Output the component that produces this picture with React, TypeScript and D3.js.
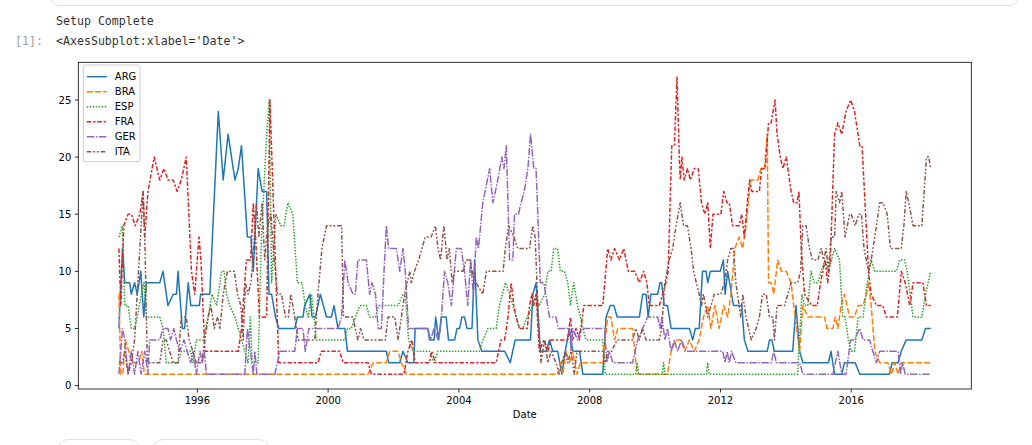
import React from "react";
import * as d3 from "d3";

// ---- data (decimal year, FIFA rank) ----
const SERIES_NAMES = ["ARG", "BRA", "ESP", "FRA", "GER", "ITA"];
const YEAR_TICKS = [1996, 2000, 2004, 2008, 2012, 2016];
const Y_TICKS = [0, 5, 10, 15, 20, 25];
const X_LABEL = "Date";

const ARG: [number, number][] = [[1993.60,5],[1993.71,12],[1993.78,9],[1993.93,9],[1993.98,8],[1994.08,9],[1994.16,8],[1994.27,10],[1994.36,6],[1994.44,9],[1994.85,9],[1994.95,10],[1995.10,7],[1995.26,8],[1995.36,8],[1995.41,10],[1995.54,5],[1995.61,5],[1995.72,9],[1995.80,7],[1996.06,7],[1996.10,8],[1996.38,8],[1996.64,24],[1996.79,18],[1996.94,22],[1997.15,18],[1997.25,19],[1997.35,21],[1997.53,13],[1997.64,13],[1997.71,10],[1997.86,19],[1997.98,17],[1998.12,17],[1998.19,8],[1998.27,8],[1998.39,6],[1998.49,5],[1998.98,5],[1999.06,6],[1999.23,6],[1999.28,7],[1999.44,8],[1999.51,6],[1999.61,6],[1999.76,8],[1999.95,6],[2000.10,6],[2000.18,7],[2000.30,5],[2000.51,5],[2000.59,3],[2001.78,3],[2001.85,2],[2002.19,2],[2002.29,3],[2002.44,2],[2002.62,2],[2002.66,5],[2003.05,5],[2003.10,4],[2003.24,4],[2003.29,6],[2003.38,4],[2003.46,6],[2003.61,6],[2003.68,4],[2003.87,4],[2003.94,5],[2004.02,5],[2004.09,6],[2004.17,6],[2004.25,5],[2004.40,5],[2004.48,11],[2004.58,4],[2004.70,3],[2005.40,3],[2005.57,2],[2005.72,4],[2006.19,4],[2006.26,8],[2006.36,9],[2006.49,3],[2006.67,3],[2006.77,4],[2006.87,3],[2007.02,3],[2007.15,1],[2007.25,3],[2007.38,5],[2007.48,3],[2007.69,3],[2007.79,1],[2008.40,1],[2008.50,6],[2008.63,7],[2008.74,7],[2008.84,6],[2009.52,6],[2009.62,8],[2009.72,8],[2009.79,6],[2009.87,8],[2010.08,8],[2010.15,9],[2010.20,9],[2010.28,7],[2010.38,7],[2010.49,5],[2011.05,5],[2011.15,4],[2011.23,5],[2011.35,5],[2011.45,10],[2011.56,10],[2011.61,9],[2011.69,10],[2011.99,10],[2012.09,11],[2012.14,8],[2012.22,10],[2012.40,7],[2012.65,7],[2012.73,4],[2012.84,3],[2013.43,3],[2013.50,4],[2013.57,4],[2013.65,3],[2014.21,3],[2014.31,7],[2014.42,3],[2014.52,2],[2015.30,2],[2015.38,3],[2015.49,1],[2015.71,1],[2015.79,2],[2016.12,2],[2016.26,1],[2017.17,1],[2017.25,2],[2017.43,2],[2017.53,3],[2017.68,4],[2018.16,4],[2018.27,5],[2018.43,5]];

const BRA: [number, number][] = [[1993.60,8],[1993.66,1],[1993.72,1],[1993.80,4],[1993.90,3],[1994.00,2],[1994.20,2],[1994.30,3],[1994.38,1],[2001.22,1],[2001.37,2],[2001.78,2],[2001.88,3],[2002.14,3],[2002.24,2],[2002.39,1],[2007.02,1],[2007.10,2],[2007.18,1],[2007.28,3],[2007.38,2],[2007.48,3],[2007.61,1],[2007.72,2],[2008.40,2],[2008.55,6],[2008.65,6],[2008.76,4],[2008.86,5],[2009.31,5],[2009.45,1],[2010.38,1],[2010.49,3],[2010.64,4],[2010.79,4],[2010.91,3],[2011.05,4],[2011.20,3],[2011.35,4],[2011.48,6],[2011.61,7],[2011.71,5],[2011.83,7],[2011.96,5],[2012.10,7],[2012.22,6],[2012.32,8],[2012.44,12],[2012.57,13],[2012.68,12],[2012.78,14],[2012.92,18],[2013.14,18],[2013.24,19],[2013.35,19],[2013.43,22],[2013.47,9],[2013.55,9],[2013.63,8],[2013.75,11],[2013.86,10],[2014.01,10],[2014.16,9],[2014.28,6],[2014.42,3],[2014.52,7],[2014.67,6],[2015.18,6],[2015.26,5],[2015.44,5],[2015.51,6],[2015.59,5],[2015.69,7],[2015.79,8],[2015.95,6],[2016.10,6],[2016.21,7],[2016.36,7],[2016.46,8],[2016.53,9],[2016.61,7],[2016.72,3],[2016.87,2],[2017.12,2],[2017.23,1],[2017.33,2],[2017.43,1],[2017.53,2],[2018.43,2]];

const ESP: [number, number][] = [[1993.60,13],[1993.71,14],[1993.78,7],[1993.88,7],[1993.98,5],[1994.08,5],[1994.16,6],[1994.29,8],[1994.37,9],[1994.44,6],[1994.85,6],[1994.95,5],[1995.05,2],[1995.41,2],[1995.51,3],[1995.80,3],[1995.87,2],[1995.97,4],[1996.18,4],[1996.33,6],[1996.45,8],[1996.59,7],[1996.74,10],[1996.82,10],[1996.89,8],[1996.99,7],[1997.15,6],[1997.25,5],[1997.35,4],[1997.45,3],[1997.55,2],[1997.62,6],[1997.68,2],[1997.86,2],[1997.96,13],[1998.12,22],[1998.20,25],[1998.27,9],[1998.40,15],[1998.55,14],[1998.65,14],[1998.77,16],[1998.92,15],[1999.06,9],[1999.20,9],[1999.30,7],[1999.39,6],[1999.49,8],[1999.57,6],[1999.64,4],[2000.51,4],[2000.59,5],[2000.71,5],[2000.97,7],[2001.17,7],[2001.27,6],[2001.45,6],[2001.55,7],[2002.14,7],[2002.29,8],[2002.36,8],[2002.46,4],[2002.59,3],[2003.10,3],[2003.24,2],[2003.36,3],[2004.63,3],[2004.73,4],[2004.89,5],[2005.14,5],[2005.24,7],[2005.42,9],[2005.55,8],[2005.65,7],[2005.75,6],[2005.85,5],[2005.95,5],[2006.09,6],[2006.26,7],[2006.36,8],[2006.46,7],[2006.62,8],[2006.72,10],[2006.82,10],[2006.90,12],[2007.02,12],[2007.10,10],[2007.23,10],[2007.33,9],[2007.41,7],[2007.51,9],[2007.63,7],[2007.72,6],[2007.79,5],[2007.89,4],[2008.40,4],[2008.47,1],[2009.41,1],[2009.45,2],[2009.50,1],[2010.22,1],[2010.26,2],[2010.30,1],[2011.57,1],[2011.61,2],[2011.65,1],[2014.36,1],[2014.49,8],[2014.57,7],[2014.67,7],[2014.77,10],[2014.87,9],[2014.98,9],[2015.08,10],[2015.20,11],[2015.30,10],[2015.49,12],[2015.64,11],[2015.74,6],[2015.81,6],[2015.91,4],[2016.00,3],[2016.10,3],[2016.21,6],[2016.36,6],[2016.49,9],[2016.61,11],[2016.72,10],[2017.38,10],[2017.48,11],[2017.63,11],[2017.71,10],[2017.89,6],[2018.16,6],[2018.27,8],[2018.43,10]];

const FRA: [number, number][] = [[1993.60,12],[1993.66,7],[1993.75,14],[1993.88,15],[1993.98,15],[1994.10,14],[1994.24,15],[1994.34,17],[1994.39,13],[1994.49,17],[1994.68,20],[1994.85,18],[1994.98,19],[1995.10,18],[1995.26,18],[1995.38,17],[1995.51,18],[1995.66,20],[1995.82,10],[1995.92,8],[1996.05,13],[1996.11,11],[1996.23,3],[1997.25,3],[1997.35,5],[1997.50,11],[1997.63,11],[1997.71,16],[1997.78,13],[1997.90,6],[1998.12,6],[1998.22,25],[1998.49,2],[1999.69,2],[1999.79,3],[2000.35,3],[2000.46,2],[2001.22,2],[2001.32,1],[2002.32,1],[2002.44,3],[2002.56,4],[2002.66,2],[2003.10,2],[2003.17,3],[2003.28,2],[2005.14,2],[2005.29,4],[2005.40,4],[2005.50,6],[2005.60,9],[2005.68,7],[2005.75,6],[2005.85,5],[2006.09,5],[2006.16,7],[2006.23,8],[2006.29,7],[2006.36,8],[2006.46,3],[2006.60,4],[2006.72,3],[2006.82,4],[2007.33,4],[2007.41,6],[2007.48,4],[2007.58,5],[2007.69,4],[2007.82,7],[2008.40,7],[2008.55,12],[2008.65,11],[2008.76,12],[2008.91,11],[2009.04,12],[2009.18,10],[2009.38,10],[2009.52,9],[2009.65,10],[2009.75,9],[2009.82,7],[2010.13,7],[2010.23,8],[2010.33,9],[2010.40,10],[2010.51,21],[2010.59,21],[2010.67,27],[2010.74,20],[2010.77,18],[2010.82,20],[2010.89,18],[2010.99,19],[2011.08,18],[2011.20,19],[2011.32,19],[2011.42,16],[2011.52,15],[2011.61,16],[2011.69,12],[2011.77,15],[2012.01,15],[2012.10,17],[2012.20,16],[2012.27,16],[2012.37,14],[2012.57,14],[2012.65,15],[2012.73,13],[2012.82,16],[2012.89,18],[2012.96,17],[2013.19,17],[2013.26,19],[2013.37,19],[2013.47,23],[2013.55,23],[2013.67,25],[2013.73,22],[2013.83,20],[2013.91,19],[2014.01,20],[2014.11,18],[2014.16,17],[2014.24,16],[2014.34,16],[2014.40,17],[2014.47,12],[2014.57,8],[2014.79,7],[2014.96,7],[2015.06,9],[2015.20,11],[2015.28,9],[2015.36,11],[2015.49,22],[2015.59,23],[2015.71,22],[2015.84,24],[2015.98,25],[2016.10,24],[2016.26,21],[2016.33,21],[2016.53,10],[2016.61,8],[2016.77,7],[2016.97,7],[2017.07,6],[2017.41,6],[2017.53,10],[2017.65,9],[2017.79,7],[2017.89,9],[2018.19,9],[2018.30,7],[2018.43,7]];

const GER: [number, number][] = [[1993.60,1],[1993.71,5],[1993.78,4],[1993.88,1],[1993.98,3],[1994.08,1],[1994.18,3],[1994.28,1],[1994.39,3],[1994.49,1],[1994.54,4],[1994.85,4],[1994.95,5],[1995.10,5],[1995.18,4],[1995.28,5],[1995.36,4],[1995.46,3],[1995.59,4],[1995.69,3],[1995.80,2],[1995.87,3],[1995.97,1],[1996.08,3],[1996.15,2],[1996.21,3],[1996.28,1],[1997.45,1],[1997.53,5],[1997.62,3],[1997.71,1],[1997.76,3],[1997.82,1],[1998.37,1],[1998.52,3],[1998.98,3],[1999.06,5],[1999.23,5],[1999.30,3],[1999.41,5],[2000.30,5],[2000.41,6],[2000.51,11],[2000.61,9],[2000.76,8],[2000.83,8],[2000.91,11],[2001.17,11],[2001.27,8],[2001.34,9],[2001.45,8],[2001.53,5],[2001.63,5],[2001.71,10],[2001.78,14],[2001.85,12],[2002.09,12],[2002.19,10],[2002.29,12],[2002.36,10],[2002.46,5],[2003.05,5],[2003.13,4],[2003.24,5],[2003.36,4],[2003.44,5],[2003.56,10],[2003.66,9],[2003.77,7],[2003.92,12],[2004.07,12],[2004.17,10],[2004.27,7],[2004.36,11],[2004.44,8],[2004.53,13],[2004.60,12],[2004.73,16],[2004.94,19],[2005.04,16],[2005.19,18],[2005.31,20],[2005.38,19],[2005.45,21],[2005.55,11],[2005.65,11],[2005.70,15],[2005.82,15],[2005.90,16],[2006.00,17],[2006.11,19],[2006.19,22],[2006.29,19],[2006.36,19],[2006.49,9],[2006.60,9],[2006.77,6],[2006.97,6],[2007.04,5],[2007.38,5],[2007.43,3],[2007.48,5],[2007.63,4],[2007.72,5],[2008.45,5],[2008.53,2],[2008.60,3],[2008.71,2],[2009.31,2],[2009.47,4],[2009.62,5],[2009.77,6],[2010.08,6],[2010.15,5],[2010.21,6],[2010.30,4],[2010.38,5],[2010.49,3],[2010.59,4],[2010.69,3],[2010.81,4],[2010.94,3],[2012.07,3],[2012.14,2],[2012.20,3],[2012.27,2],[2012.34,3],[2012.47,2],[2013.55,2],[2013.63,3],[2013.71,2],[2014.42,2],[2014.52,1],[2015.44,1],[2015.59,3],[2015.71,1],[2015.84,1],[2015.98,4],[2016.10,4],[2016.26,5],[2016.36,4],[2016.56,4],[2016.66,3],[2016.77,2],[2016.87,3],[2017.43,3],[2017.51,1],[2017.57,2],[2017.65,1],[2018.43,1]];

const ITA: [number, number][] = [[1993.60,2],[1993.71,2],[1993.78,3],[1993.88,1],[1993.98,2],[1994.08,4],[1994.18,9],[1994.28,14],[1994.34,17],[1994.40,12],[1994.47,2],[1994.85,2],[1994.95,4],[1995.05,4],[1995.15,3],[1995.26,2],[1995.41,2],[1995.51,6],[1995.66,6],[1995.75,4],[1995.97,2],[1996.13,2],[1996.23,4],[1996.33,6],[1996.41,7],[1996.52,5],[1996.62,6],[1996.69,5],[1996.79,8],[1996.92,10],[1997.13,10],[1997.23,8],[1997.33,7],[1997.40,4],[1997.47,9],[1997.55,8],[1997.64,9],[1997.72,12],[1997.81,16],[1997.88,13],[1997.98,16],[1998.06,11],[1998.15,14],[1998.25,15],[1998.35,11],[1998.45,8],[1998.57,8],[1998.70,6],[1998.78,6],[1998.86,8],[1998.98,6],[1999.08,4],[1999.59,4],[1999.69,8],[1999.81,12],[1999.95,14],[2000.41,14],[2000.47,6],[2000.76,6],[2000.83,5],[2000.91,4],[2000.99,5],[2001.10,4],[2001.75,4],[2001.83,6],[2002.04,6],[2002.14,4],[2002.24,6],[2002.34,8],[2002.50,10],[2002.54,9],[2002.64,10],[2002.77,11],[2002.87,12],[2002.97,13],[2003.15,13],[2003.28,14],[2003.36,12],[2003.44,11],[2003.54,14],[2003.64,11],[2003.71,12],[2003.79,9],[2003.87,10],[2004.12,10],[2004.22,11],[2004.33,11],[2004.40,10],[2004.53,9],[2004.73,8],[2004.84,10],[2005.35,10],[2005.42,12],[2005.52,14],[2005.68,13],[2005.80,12],[2006.16,12],[2006.26,14],[2006.33,13],[2006.43,6],[2006.51,2],[2006.62,4],[2006.72,2],[2006.82,3],[2006.97,2],[2007.07,1],[2007.15,2],[2007.25,3],[2007.33,2],[2007.43,3],[2007.53,1],[2007.61,3],[2008.40,3],[2008.47,2],[2008.55,3],[2008.67,3],[2008.84,4],[2009.31,4],[2009.41,5],[2009.52,4],[2009.62,5],[2009.72,4],[2010.13,4],[2010.20,5],[2010.30,9],[2010.43,11],[2010.54,12],[2010.64,14],[2010.77,16],[2010.87,14],[2010.99,14],[2011.10,12],[2011.18,10],[2011.26,9],[2011.35,8],[2011.42,7],[2011.48,8],[2011.61,6],[2011.71,7],[2011.81,8],[2012.01,8],[2012.12,9],[2012.22,11],[2012.32,12],[2012.40,12],[2012.47,9],[2012.57,7],[2012.62,6],[2012.68,8],[2012.78,6],[2012.94,4],[2013.09,5],[2013.19,6],[2013.29,8],[2013.40,8],[2013.50,6],[2013.60,6],[2013.65,4],[2013.73,7],[2013.96,7],[2014.06,8],[2014.16,9],[2014.36,9],[2014.45,10],[2014.52,14],[2014.62,14],[2014.72,12],[2014.82,11],[2014.98,11],[2015.08,12],[2015.16,11],[2015.23,12],[2015.30,10],[2015.38,13],[2015.49,13],[2015.54,17],[2015.64,16],[2015.71,17],[2015.81,13],[2015.95,15],[2016.00,15],[2016.12,14],[2016.23,15],[2016.31,15],[2016.39,12],[2016.53,10],[2016.61,11],[2016.72,13],[2016.87,16],[2016.97,16],[2017.10,15],[2017.20,12],[2017.53,12],[2017.61,14],[2017.68,17],[2017.76,16],[2017.89,14],[2018.16,14],[2018.30,20],[2018.37,20],[2018.43,19]];

const SERIES_VALUES = [ARG, BRA, ESP, FRA, GER, ITA];
const COLORS = ["#1f77b4", "#ff7f0e", "#2ca02c", "#d62728", "#9467bd", "#8c564b"];
const DASHES = ["", "6 2.25", "1.5 1.5", "4.5 1.875 2.25 1.875", "7.5 1.5 1.5 1.5", "4.5 1.875 1.875 1.875 1.875 1.875"];

const W = 1032;
const H = 445;
const PLOT = { left: 78.3, right: 971.3, top: 62.3, bottom: 389 };
const FONT = "'DejaVu Sans', sans-serif";
const MONO = "'DejaVu Sans Mono', monospace";

export default function App() {
  const all = SERIES_VALUES.flat();
  const [xmin, xmax] = d3.extent(all, (d) => d[0]) as [number, number];
  const [ymin, ymax] = d3.extent(all, (d) => d[1]) as [number, number];
  const xp = (xmax - xmin) * 0.05;
  const yp = (ymax - ymin) * 0.05;
  const x = d3.scaleLinear().domain([xmin - xp, xmax + xp]).range([PLOT.left, PLOT.right]);
  const y = d3.scaleLinear().domain([ymin - yp, ymax + yp]).range([PLOT.bottom, PLOT.top]);
  const line = d3.line<[number, number]>().x((d) => x(d[0])).y((d) => y(d[1]));

  const legX = 83.3;
  const legY = 65;
  const rowH = 15;

  return (
    <svg width={W} height={H} style={{ position: "absolute", left: 0, top: 0, background: "#fff" }}>
      {/* notebook chrome */}
      <rect x={51.5} y={-20} width={966} height={25.5} rx={7} fill="#fff" stroke="#e0e0e0" />
      <text x={56} y={24.5} fontFamily={MONO} fontSize={11.6} fill="#333">Setup Complete</text>
      <text x={15} y={45} fontFamily={MONO} fontSize={11.6} fill="#9e9e9e">[1]:</text>
      <text x={56} y={45} fontFamily={MONO} fontSize={11.6} fill="#333">{"<AxesSubplot:xlabel='Date'>"}</text>
      <rect x={57.5} y={439.5} width={83} height={24} rx={11} fill="#fff" stroke="#e0e0e0" />
      <rect x={152.5} y={439.5} width={117} height={24} rx={11} fill="#fff" stroke="#e0e0e0" />

      {/* series */}
      <g>
        {SERIES_VALUES.map((s, i) => (
          <path key={SERIES_NAMES[i]} d={line(s) || ""} fill="none" stroke={COLORS[i]} strokeWidth={1.5}
            strokeDasharray={DASHES[i] || undefined} strokeLinejoin="round" />
        ))}
      </g>

      {/* axes frame */}
      <rect x={PLOT.left} y={PLOT.top} width={PLOT.right - PLOT.left} height={PLOT.bottom - PLOT.top}
        fill="none" stroke="#000" strokeWidth={0.8} />

      {/* x ticks */}
      {YEAR_TICKS.map((t) => (
        <g key={t}>
          <line x1={x(t)} x2={x(t)} y1={PLOT.bottom} y2={PLOT.bottom + 3.5} stroke="#000" strokeWidth={0.8} />
          <text x={x(t)} y={PLOT.bottom + 15.3} textAnchor="middle" fontFamily={FONT} fontSize={10} fill="#000">{t}</text>
        </g>
      ))}
      <text x={(PLOT.left + PLOT.right) / 2} y={418} textAnchor="middle" fontFamily={FONT} fontSize={10} fill="#000">{X_LABEL}</text>

      {/* y ticks */}
      {Y_TICKS.map((t) => (
        <g key={t}>
          <line x1={PLOT.left - 3.5} x2={PLOT.left} y1={y(t)} y2={y(t)} stroke="#000" strokeWidth={0.8} />
          <text x={PLOT.left - 7} y={y(t) + 3.6} textAnchor="end" fontFamily={FONT} fontSize={10} fill="#000">{t}</text>
        </g>
      ))}

      {/* legend */}
      <rect x={legX} y={legY} width={56.7} height={96.7} rx={2} fill="#fff" fillOpacity={0.8} stroke="#cccccc" strokeWidth={1} />
      {SERIES_NAMES.map((n, i) => (
        <g key={n}>
          <line x1={legX + 3.5} x2={legX + 23.5} y1={legY + 11.7 + i * rowH} y2={legY + 11.7 + i * rowH}
            stroke={COLORS[i]} strokeWidth={1.5} strokeDasharray={DASHES[i] || undefined} />
          <text x={legX + 31.5} y={legY + 11.7 + i * rowH + 3.6} fontFamily={FONT} fontSize={10} fill="#000">{n}</text>
        </g>
      ))}
    </svg>
  );
}
